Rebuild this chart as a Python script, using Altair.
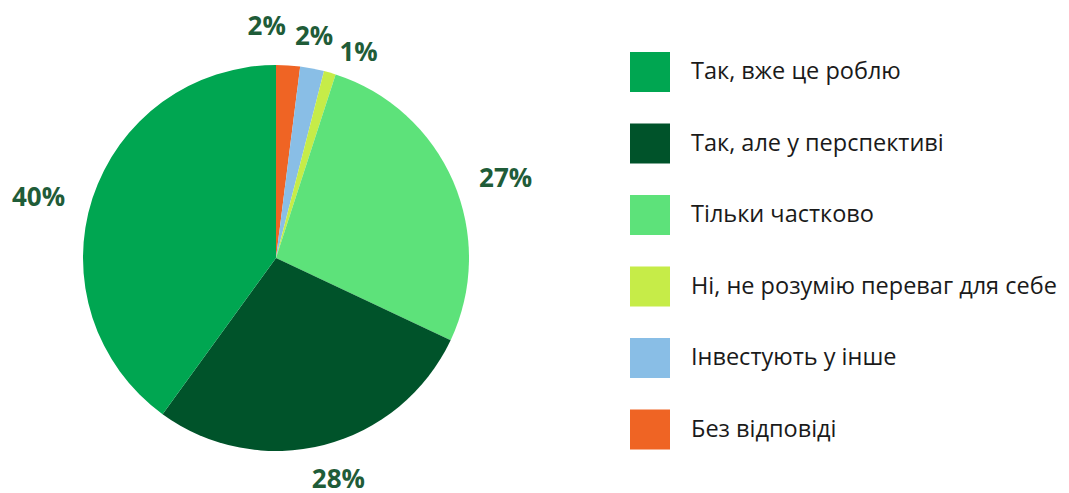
import math
import altair as alt
import pandas as pd

# Data (clockwise order from 12 o'clock)
categories = ["Без відповіді", "Інвестують у інше", "Ні, не розумію переваг для себе",
              "Тільки частково", "Так, але у перспективі", "Так, вже це роблю"]
values = [2, 2, 1, 27, 28, 40]
labels = ["2%", "2%", "1%", "27%", "28%", "40%"]

legend_order = ["Так, вже це роблю", "Так, але у перспективі", "Тільки частково",
                "Ні, не розумію переваг для себе", "Інвестують у інше", "Без відповіді"]
colors = ["#00a651", "#00532a", "#5de27a", "#c6ec48", "#89bee6", "#ef6424"]

df = pd.DataFrame({"cat": categories, "value": values, "label": labels,
                   "ord": list(range(len(categories)))})

CX, CY, R = 268, 250, 193
LABEL_R = 235
# per-label nudges (style only)
nudges = {
    "Без відповіді": (-24, 4),
    "Інвестують у інше": (-6, 10),
    "Ні, не розумію переваг для себе": (17, 21),
    "Тільки частково": (14, 14),
    "Так, але у перспективі": (4, -6),
    "Так, вже це роблю": (-14, 13),
}

base = alt.Chart(df)

pie = base.mark_arc(outerRadius=R, stroke=None).encode(
    x=alt.value(CX), y=alt.value(CY),
    theta=alt.Theta("value:Q", stack=True),
    order=alt.Order("ord:Q", sort="ascending"),
    color=alt.Color("cat:N", scale=alt.Scale(domain=legend_order, range=colors),
                    sort=legend_order,
                    legend=alt.Legend(title=None, orient="none", legendX=622, legendY=44,
                                      symbolType="square", symbolSize=1600,
                                      symbolStrokeWidth=0, symbolOpacity=1,
                                      labelFontSize=23.5, labelFont="Open Sans",
                                      labelColor="#1a1a1a", labelOffset=21,
                                      rowPadding=31.5, padding=0, labelLimit=500)),
)

text_base = base.transform_window(
    cum="sum(value)", sort=[alt.SortField("ord", order="ascending")]
).transform_joinaggregate(total="sum(value)").transform_calculate(
    mid=f"(datum.cum - datum.value/2) / datum.total * 2 * {math.pi}"
)

text_layers = []
for c in categories:
    dx, dy = nudges[c]
    t = text_base.transform_filter(alt.datum.cat == c).mark_text(
        radius=LABEL_R, font="Open Sans", fontWeight="bold", fontSize=26,
        color="#1f5c38", align="center", baseline="middle", dx=dx, dy=dy
    ).encode(
        x=alt.value(CX), y=alt.value(CY),
        theta=alt.Theta("mid:Q", scale=None),
        text="label:N",
    )
    text_layers.append(t)

chart = alt.layer(pie, *text_layers).properties(
    width=1053, height=484, autosize=alt.AutoSizeParams(type="none"), padding=0
).configure_view(stroke=None)

chart.save("out.html", embed_options={"renderer": "svg", "actions": False})
